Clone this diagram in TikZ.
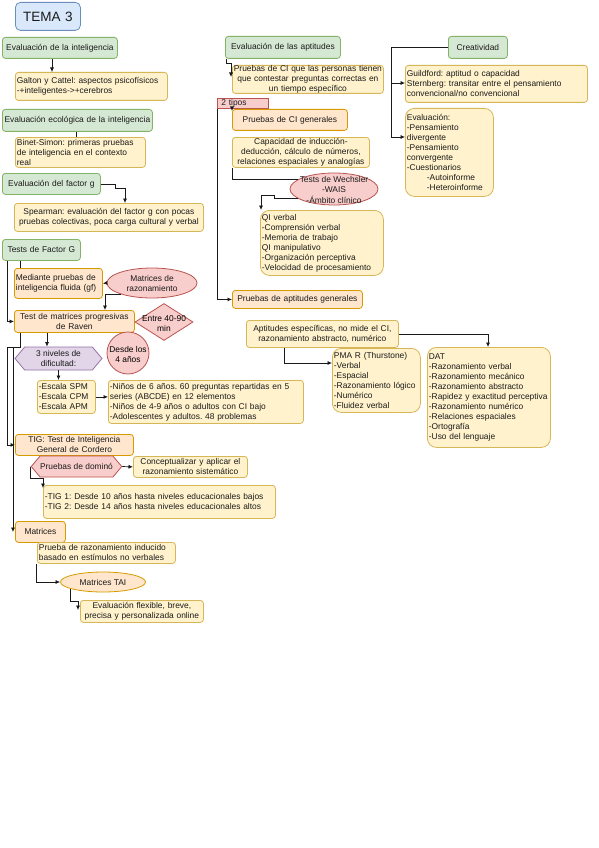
\documentclass[tikz,border=0pt]{standalone}
\usepackage{fontspec}
\setmainfont{Liberation Sans}
\frenchspacing
\usetikzlibrary{shapes.geometric,shapes.symbols,arrows.meta}
\definecolor{t3-green}{HTML}{D5E8D4}
\definecolor{t3-green-line}{HTML}{82B366}
\definecolor{t3-yellow}{HTML}{FFF2CC}
\definecolor{t3-yellow-line}{HTML}{D6B656}
\definecolor{t3-orange}{HTML}{FFE6CC}
\definecolor{t3-orange-line}{HTML}{D79B00}
\definecolor{t3-red}{HTML}{F8CECC}
\definecolor{t3-red-line}{HTML}{B85450}
\definecolor{t3-purple}{HTML}{E1D5E7}
\definecolor{t3-purple-line}{HTML}{9673A6}
\definecolor{t3-blue}{HTML}{DAE8FC}
\definecolor{t3-blue-line}{HTML}{6C8EBF}
\definecolor{t3-text}{HTML}{1A1A1A}
\newcommand{\zerotab}[1]{\makebox[0pt]{\raisebox{-4pt}{\begin{tabular}{@{}c@{}}#1\end{tabular}}}}
\tikzset{card/.style={anchor=north west, inner xsep=1.5pt, inner ysep=0pt, line width=0.8pt, text=t3-text}}
\tikzset{wh/.style 2 args={minimum width=#1pt, minimum height=#2pt, text width=#1pt-3pt}}

\begin{document}
\begin{tikzpicture}[
    x=1pt, y=-1pt,
    font=\fontsize{8.4}{10}\selectfont,
    >={Latex[length=4.5pt,width=4pt]}
  ]

  % Box styles in the draw.io palette
  \tikzset{
    gbox/.style={card, draw=t3-green-line, fill=t3-green, rounded corners=3pt, align=center},
    ybox/.style={card, draw=t3-yellow-line, fill=t3-yellow, rounded corners=3pt},
    ylist/.style={ybox, rounded corners=9pt},
    obox/.style={card, draw=t3-orange-line, fill=t3-orange, rounded corners=3pt},
    redbox/.style={card, draw=t3-red-line, fill=t3-red},
    redell/.style={ellipse, draw=t3-red-line, fill=t3-red, inner sep=0pt, line width=0.8pt, text=t3-text},
    hexa/.style={signal, signal to=west and east, signal pointer angle=100, inner sep=0pt, line width=0.8pt, text=t3-text, align=center},
    link/.style={->, t3-text, line width=0.7pt},
    bare/.style={t3-text, line width=0.7pt}
  }

  \fill[white] (0,0) rectangle (599,848);
  \useasboundingbox (0,0) rectangle (599,848);

  % Title
  \node (tema) [card, draw=t3-blue-line, fill=t3-blue, rounded corners=5pt, wh={65}{28}, align=center, font=\fontsize{13.5}{15}\selectfont] at (15,2) {TEMA 3};

  % Left column
  \node (evalint)  [gbox, wh={115}{21}] at (2,37) {Evaluación de la inteligencia};
  \node (galton)   [ybox, wh={152}{28}, align=left] at (15,72) {Galton y Cattel: aspectos psicofísicos\\-+inteligentes->+cerebros};
  \node (evaleco)  [gbox, wh={150}{22}] at (2,109) {Evaluación ecológica de la inteligencia};
  \node (binet)    [ybox, wh={130}{30}, align=left] at (15,137) {Binet-Simon: primeras pruebas\\de inteligencia en el contexto\\real};
  \node (factg)    [gbox, wh={98}{21}] at (2,173) {Evaluación del factor g};
  \node (spearman) [ybox, wh={189}{28}, align=center] at (14,203) {Spearman: evaluación del factor g con pocas\\pruebas colectivas, poca carga cultural y verbal};
  \node (tfg)      [gbox, wh={78}{21}] at (2,239) {Tests de Factor G};
  \node (mediante) [obox, wh={88}{30}, align=left] at (14,268) {Mediante pruebas de\\inteligencia fluida (gf)};
  \node (matraz)   [redell, minimum width=90pt, minimum height=30pt, align=center] at (152,283) {Matrices de\\razonamiento};
  \node (raven)    [obox, wh={120}{22}, align=center] at (14,310) {Test de matrices progresivas\\de Raven};
  \node (entre)    [diamond, draw=t3-red-line, fill=t3-red, line width=0.8pt, minimum width=58pt, minimum height=37pt, inner sep=0pt, text height=0pt, text depth=0pt] at (164,322) {\zerotab{Entre 40-90\\min}};
  \node (desde)    [circle, draw=t3-red-line, fill=t3-red, line width=0.8pt, minimum size=42pt, inner sep=0pt, text height=0pt, text depth=0pt] at (128,353) {\zerotab{Desde los\\4 años}};
  \node (niveles)  [hexa, draw=t3-purple-line, fill=t3-purple, minimum width=87pt, minimum height=23pt] at (58.5,358.5) {3 niveles de\\dificultad:};
  \node (escala)   [ybox, wh={58}{33}, align=left] at (37,380) {-Escala SPM\\-Escala CPM\\-Escala APM};
  \node (ninos)    [ybox, wh={195}{43}, align=left] at (108,380) {-Niños de 6 años. 60 preguntas repartidas en 5\\series (ABCDE) en 12 elementos\\-Niños de 4-9 años o adultos con CI bajo\\-Adolescentes y adultos. 48 problemas};
  \node (tig)      [obox, wh={118}{21}, align=center] at (15,434) {TIG: Test de Inteligencia\\General de Cordero};
  \node (domino)   [hexa, draw=t3-red-line, fill=t3-red, minimum width=87pt, minimum height=21pt] at (76.5,466.5) {Pruebas de dominó};
  \node (concep)   [ybox, wh={114}{21}, align=center] at (133,456) {Conceptualizar y aplicar el\\razonamiento sistemático};
  \node (tig12)    [ybox, wh={232}{33}, align=left] at (43,485) {-TIG 1: Desde 10 años hasta niveles educacionales bajos\\-TIG 2: Desde 14 años hasta niveles educacionales altos};
  \node (matrices) [obox, wh={50}{21}, align=center] at (15,521) {Matrices};
  \node (prueba)   [ybox, wh={138}{21}, align=left] at (37,542) {Prueba de razonamiento inducido\\basado en estímulos no verbales};
  \node (tai)      [ellipse, draw=t3-orange-line, fill=t3-orange, line width=0.8pt, inner sep=0pt, minimum width=85pt, minimum height=20pt, text=t3-text] at (103,582) {Matrices TAI};
  \node (evalflex) [ybox, wh={123}{22}, align=center] at (80,600) {Evaluación flexible, breve,\\precisa y personalizada online};

  % Aptitudes column
  \node (evalapt)   [gbox, wh={115}{22}] at (225,36) {Evaluación de las aptitudes};
  \node (pruebasci) [ybox, minimum width=151pt, minimum height=28pt, text width=156pt, inner xsep=-2.5pt, align=center] at (232,65) {Pruebas de CI que las personas tienen\\que contestar preguntas correctas en\\un tiempo específico};
  \node (dostipos)  [redbox, minimum width=51pt, minimum height=10pt, text width=43pt, inner xsep=4pt, align=left] at (217,98) {2 tipos};
  \node (cigen)     [obox, wh={115}{21}, align=center] at (232,109) {Pruebas de CI generales};
  \node (capac)     [ybox, wh={137}{30}, align=center] at (232,137) {Capacidad de inducción-\\deducción, cálculo de números,\\relaciones espaciales y analogías};
  \node (wechsler)  [redell, minimum width=88pt, minimum height=32pt, text height=0pt, text depth=0pt] at (334,189) {\zerotab{Tests de Wechsler\\-WAIS\\-Ámbito clínico}};
  \node (qi)        [ylist, wh={123}{65}, align=left] at (260,210) {QI verbal\\-Comprensión verbal\\-Memoria de trabajo\\QI manipulativo\\-Organización perceptiva\\-Velocidad de procesamiento};
  \node (aptgen)    [obox, wh={130}{18}, align=center] at (232,290) {Pruebas de aptitudes generales};
  \node (aptesp)    [ybox, wh={152}{27}, align=center] at (246,320) {Aptitudes específicas, no mide el CI,\\razonamiento abstracto, numérico};
  \node (pma)       [ylist, wh={88}{64}, align=left] at (332,348) {PMA R (Thurstone)\\-Verbal\\-Espacial\\-Razonamiento lógico\\-Numérico\\-Fluidez verbal};
  \node (dat)       [ylist, wh={123}{100}, align=left] at (427,347) {DAT\\-Razonamiento verbal\\-Razonamiento mecánico\\-Razonamiento abstracto\\-Rapidez y exactitud perceptiva\\-Razonamiento numérico\\-Relaciones espaciales\\-Ortografía\\-Uso del lenguaje};

  % Creatividad column
  \node (creat)   [gbox, wh={59}{22}] at (448,36) {Creatividad};
  \node (guild)   [ybox, wh={182}{37}, align=left] at (405,65) {Guildford: aptitud o capacidad\\Sternberg: transitar entre el pensamiento\\convencional/no convencional};
  \node (evalcre) [ylist, wh={88}{88}, align=left] at (405,108) {Evaluación:\\-Pensamiento\\divergente\\-Pensamiento\\convergente\\-Cuestionarios\\\hspace*{20pt}-Autoinforme\\\hspace*{20pt}-Heteroinforme};

  % Connectors, left column
  \draw[link] ([xshift=50pt]evalint.south west) -- ([xshift=50pt]evalint.south west |- galton.north);
  \draw[bare] ([xshift=74pt]evaleco.south west) -- ([xshift=74pt]evaleco.south west |- binet.north);
  \draw[link] (factg.east) -- ++(15,0) -- ++(0,4) -| ([xshift=111pt]spearman.north west);
  \draw[bare] ([xshift=18pt]tfg.south west) -- ([xshift=18pt]tfg.south west |- mediante.north);
  \draw[link] ([xshift=5pt]tfg.south west) |- (raven.west);
  \draw[link] (matraz.west) -- (mediante.east);
  \draw[link] (matraz.200) -| ([xshift=91pt]raven.north west);
  \draw[link] ([xshift=33pt]raven.south west) -- ([xshift=33pt]raven.south west |- niveles.north);
  \draw[link] (niveles.south) -- (niveles.south |- escala.north);
  \draw[link] (escala.east) -- (escala.east -| ninos.west);
  \draw[link] ([xshift=6pt]raven.south west) -- ++(0,15) -| ([xshift=-8pt]tig.west) -- (tig.west);
  \draw[link] ([xshift=6pt]raven.south west) -- ++(0,15) -| ([xshift=-2pt,yshift=-11pt]matrices.north west);
  \draw[link] (domino.east) -- (concep.west);
  \draw[link] (domino.west) -- ++(0,12) -| ([yshift=-3pt]tig12.north west);
  \draw[link] ([xshift=-1pt]prueba.south west) |- (tai.west);
  \draw[link] (tai.192) -- ++(0,12) -| ([xshift=-2pt,yshift=-10pt]evalflex.north west);

  % Connectors, aptitudes and creatividad
  \draw[link] ([xshift=1pt]evalapt.south west) -- ++(0,5) -| ([xshift=-1pt,yshift=-12pt]pruebasci.north west);
  \draw[link] ([xshift=15pt]dostipos.south west) -- ([yshift=-2pt]cigen.north west);
  \draw[link] (dostipos.south west) |- (aptgen.west);
  \draw[bare] (capac.south west) |- (wechsler.165);
  \draw[link] (wechsler.195) -- ++(-24,0) -- ++(0,-3) -| ([xshift=1pt]qi.north west);
  \draw[link] ([xshift=38pt]aptesp.south west) |- ([yshift=-15pt]pma.north west);
  \draw[link] (aptesp.east) -| ([xshift=61pt]dat.north west);
  \draw[link] (creat.west) -- ++(-57,0) |- ([yshift=-18pt]guild.north west);
  \draw[link] (creat.west) -- ++(-57,0) |- ([yshift=-29pt]evalcre.north west);

\end{tikzpicture}
\end{document}
